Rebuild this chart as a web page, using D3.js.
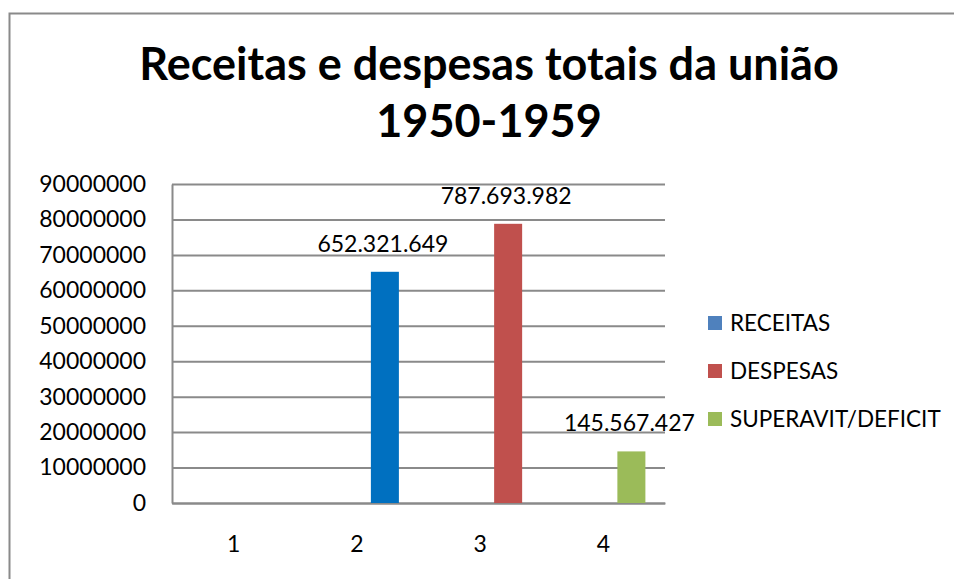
<!DOCTYPE html>
<html>
<head>
<meta charset="utf-8">
<script src="https://cdn.jsdelivr.net/npm/d3@7"></script>
<style>
  html, body { margin: 0; padding: 0; background: #fff; overflow: hidden; }
  svg { display: block; }
  text { font-family: Lato, "Open Sans", sans-serif; fill: #000; }
</style>
</head>
<body>
<div id="chart"></div>
<script>
// chart data
var categories = ["1", "2", "3", "4"];
var seriesNames = ["RECEITAS", "DESPESAS", "SUPERAVIT/DEFICIT"];
var receitas = [null, 65232164.9, null, null];
var despesas = [null, null, 78769398.2, null];
var superavit = [null, null, null, 14556742.7];
var valueLabels = ["652.321.649", "787.693.982", "145.567.427"];
var yTicks = [0, 10000000, 20000000, 30000000, 40000000, 50000000, 60000000, 70000000, 80000000, 90000000];
var titleLines = ["Receitas e despesas totais da união", "1950-1959"];

var width = 954, height = 579;
var plot = { left: 172, right: 665, top: 184, bottom: 503 };
var legendColors = ["#4F81BD", "#C0504D", "#9BBB59"];
var barColors = ["#0070C0", "#C0504D", "#9BBB59"];
var gridColor = "#8a8a8a";
var barSlot = 2; // every bar sits in the third slot of its cluster

var seriesValues = [receitas, despesas, superavit];

var svg = d3.select("#chart").append("svg")
    .attr("width", width)
    .attr("height", height);

svg.append("rect")
    .attr("width", width).attr("height", height)
    .attr("fill", "#fff");

// outer frame: only the top and left edges are inside the picture
svg.append("path")
    .attr("d", "M9.5," + height + "V13.5H" + width)
    .attr("fill", "none")
    .attr("stroke", "#8a8a8a")
    .attr("stroke-width", 2);

// title
svg.selectAll(".title")
    .data(titleLines)
    .enter().append("text")
    .attr("class", "title")
    .attr("x", 489)
    .attr("y", function (d, i) { return 80 + i * 57; })
    .attr("text-anchor", "middle")
    .style("font-size", "45px")
    .style("font-weight", "bold")
    .text(function (d) { return d; });

var x0 = d3.scaleBand()
    .domain(categories)
    .range([plot.left, plot.right]);

var x1 = d3.scaleBand()
    .domain([0, 1, 2])
    .range([0, x0.bandwidth()])
    .paddingInner(0)
    .paddingOuter(0.7);

var y = d3.scaleLinear()
    .domain([0, 90000000])
    .range([plot.bottom, plot.top]);

// gridlines
svg.append("g")
    .attr("class", "grid")
    .attr("transform", "translate(" + plot.left + ",0)")
    .call(d3.axisLeft(y).tickValues(yTicks).tickSize(-(plot.right - plot.left)).tickFormat(""))
    .call(function (g) { g.select(".domain").remove(); })
    .selectAll("line")
    .attr("stroke", gridColor)
    .attr("stroke-width", 2);

// y axis labels
var yAxis = svg.append("g")
    .attr("transform", "translate(" + plot.left + ",0)")
    .call(d3.axisLeft(y).tickValues(yTicks).tickSize(0).tickPadding(26).tickFormat(d3.format("d")));
yAxis.select(".domain").attr("stroke", gridColor).attr("stroke-width", 2);
yAxis.selectAll("text")
    .style("font-size", "23px")
    .style("font-family", "Lato, 'Open Sans', sans-serif")
    .attr("fill", "#000");

// x axis
var xAxis = svg.append("g")
    .attr("transform", "translate(0," + plot.bottom + ")")
    .call(d3.axisBottom(x0).tickSize(0).tickPadding(33));
xAxis.select(".domain").attr("stroke", gridColor).attr("stroke-width", 2);
xAxis.selectAll("text")
    .style("font-size", "23px")
    .style("font-family", "Lato, 'Open Sans', sans-serif")
    .attr("fill", "#000");

// bars and labels
seriesValues.forEach(function (vals, s) {
    var pts = vals.map(function (v, i) { return { cat: categories[i], value: v }; })
        .filter(function (d) { return d.value !== null; });

    svg.selectAll(".bar-" + s)
        .data(pts)
        .enter().append("rect")
        .attr("class", "bar-" + s)
        .attr("x", function (d) { return x0(d.cat) + x1(barSlot); })
        .attr("width", x1.bandwidth())
        .attr("y", function (d) { return y(d.value); })
        .attr("height", function (d) { return plot.bottom - y(d.value); })
        .attr("fill", barColors[s]);

    svg.selectAll(".label-" + s)
        .data(pts)
        .enter().append("text")
        .attr("class", "label-" + s)
        .attr("x", function (d) { return x0(d.cat) + x1(barSlot) + x1.bandwidth() / 2 - 2; })
        .attr("y", function (d) { return y(d.value) - 20; })
        .attr("text-anchor", "middle")
        .style("font-size", "23px")
        .text(valueLabels[s]);
});

// legend
var legend = svg.selectAll(".legend")
    .data(seriesNames)
    .enter().append("g")
    .attr("class", "legend")
    .attr("transform", function (d, i) { return "translate(708," + (323 + i * 48) + ")"; });

legend.append("rect")
    .attr("x", 0).attr("y", -7)
    .attr("width", 14).attr("height", 14)
    .attr("fill", function (d, i) { return legendColors[i]; });

legend.append("text")
    .attr("x", 22)
    .attr("y", 0)
    .attr("dy", "0.35em")
    .style("font-size", "22.5px")
    .text(function (d) { return d; });
</script>
</body>
</html>
